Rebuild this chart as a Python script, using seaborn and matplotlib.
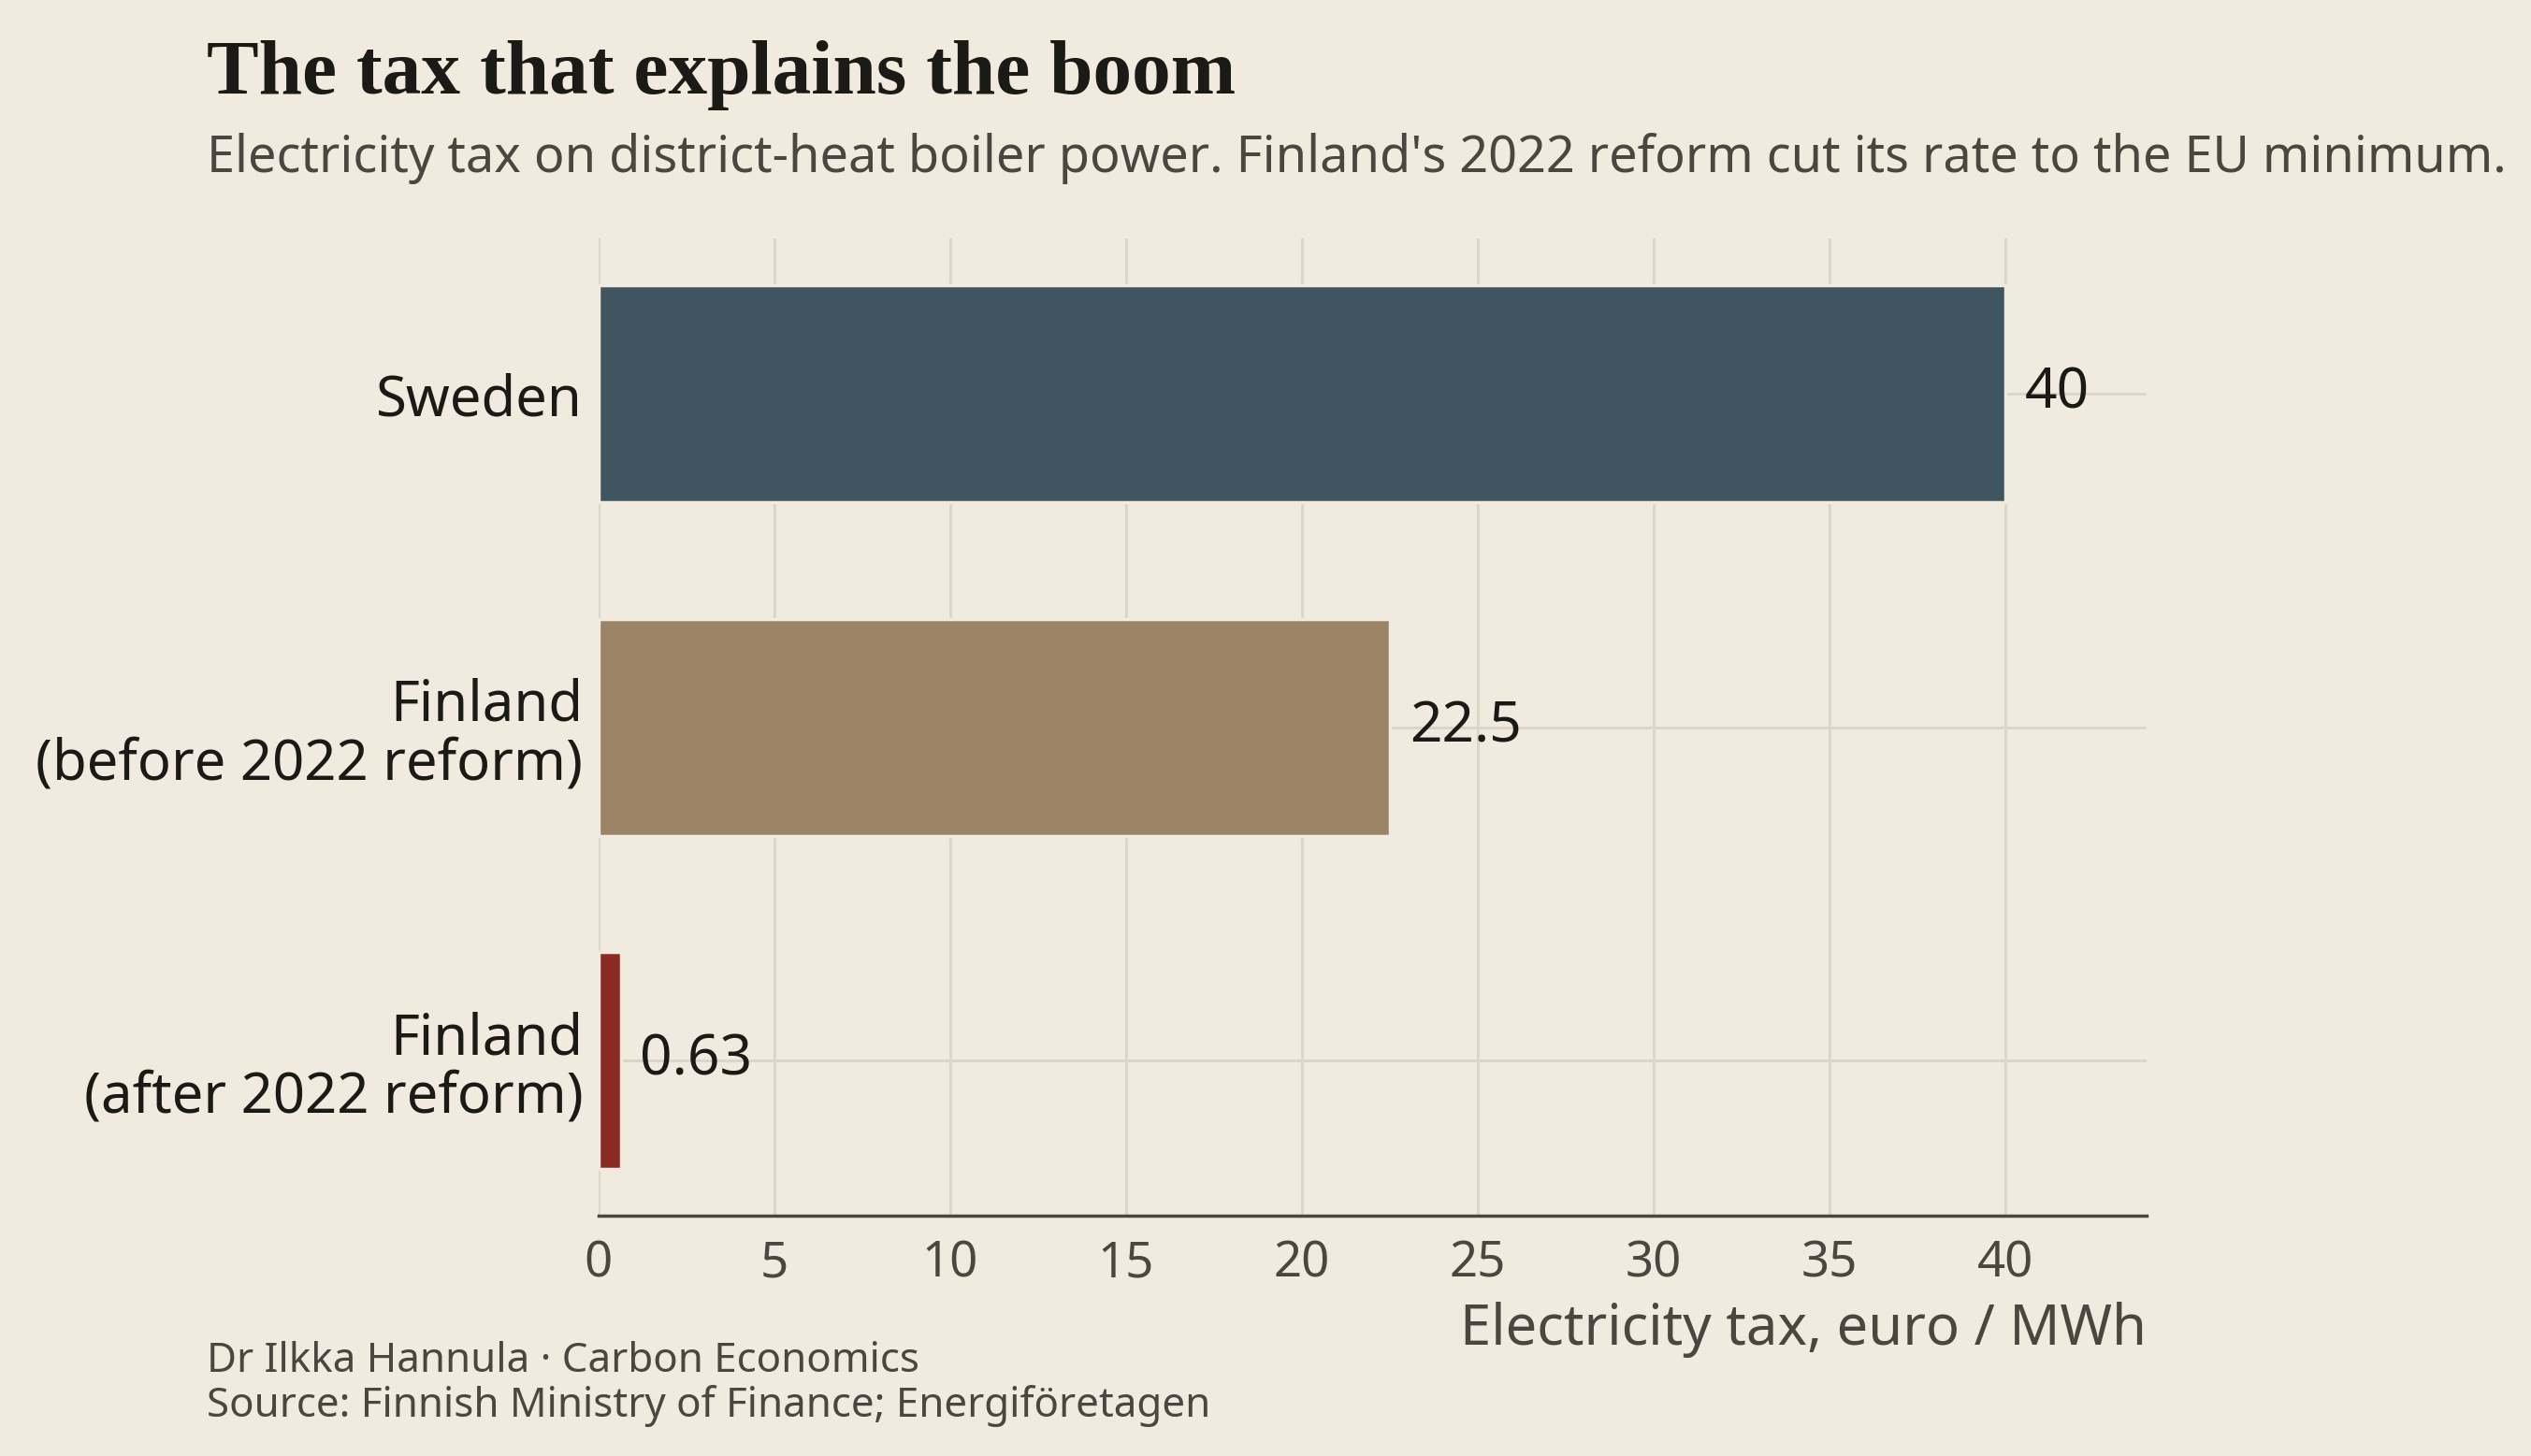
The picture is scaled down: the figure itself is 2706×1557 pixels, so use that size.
import matplotlib
matplotlib.use("Agg")
import matplotlib.pyplot as plt
import seaborn as sns
import pandas as pd

# data
categories = ["Sweden", "Finland\n(before 2022 reform)", "Finland\n(after 2022 reform)"]
tax_rates = [40, 22.5, 0.63]
value_labels = ["40", "22.5", "0.63"]
bar_colors = ["#3f5560", "#9b8465", "#8b2a23"]
x_ticks = [0, 5, 10, 15, 20, 25, 30, 35, 40]

BG = "#f1ebdf"
GRID = "#dcd5c9"
INK = "#1c1a17"
GREY = "#4b4640"

sns.set_theme(style="whitegrid")
plt.rcParams["font.family"] = ["Noto Sans", "DejaVu Sans"]

df = pd.DataFrame({"country": categories, "tax": tax_rates})

fig = plt.figure(figsize=(27.06, 15.57), dpi=100, facecolor=BG)
ax = fig.add_axes([0.2365, 0.165, 0.6115, 0.671])
ax.set_facecolor(BG)

sns.barplot(data=df, x="tax", y="country", hue="country", palette=bar_colors,
            saturation=1, width=0.65, edgecolor=BG, linewidth=2.5, legend=False,
            ax=ax, zorder=3)

ax.set_xlim(0, 44)
ax.set_ylim(2.465, -0.465)
ax.set_xticks(x_ticks)
ax.grid(True, color=GRID, linewidth=2.2, zorder=0)
ax.set_axisbelow(True)
for s in ["top", "right", "left"]:
    ax.spines[s].set_visible(False)
ax.spines["bottom"].set_color(GREY)
ax.spines["bottom"].set_linewidth(2.5)
ax.spines["bottom"].set_zorder(4)

ax.tick_params(axis="x", colors=GREY, labelsize=38, length=12, width=2.5, pad=6)
ax.tick_params(axis="y", length=0, labelsize=43, labelcolor=INK, pad=12)
for t in ax.get_yticklabels():
    t.set_horizontalalignment("right")
    t.set_multialignment("right")
    t.set_linespacing(1.05)

ax.set_ylabel("")
ax.set_xlabel("Electricity tax, euro / MWh", fontsize=43, color=GREY, loc="right", labelpad=10)

for i, (v, lab) in enumerate(zip(tax_rates, value_labels)):
    ax.text(v + 0.55, i, lab, va="center", ha="left", fontsize=43.5, color=INK, zorder=5)

fig.text(0.0817, 0.936, "The tax that explains the boom", fontsize=60, fontweight="bold",
         family="Liberation Serif", color=INK)
fig.text(0.0817, 0.882,
         "Electricity tax on district-heat boiler power. Finland's 2022 reform cut its rate to the EU minimum.",
         fontsize=38.9, color=GREY)
fig.text(0.0817, 0.058, "Dr Ilkka Hannula \u00b7 Carbon Economics", fontsize=31.6, color=GREY)
fig.text(0.0817, 0.027, "Source: Finnish Ministry of Finance; Energiföretagen", fontsize=31.6, color=GREY)

fig.savefig("out.png", dpi=100, facecolor=BG)
